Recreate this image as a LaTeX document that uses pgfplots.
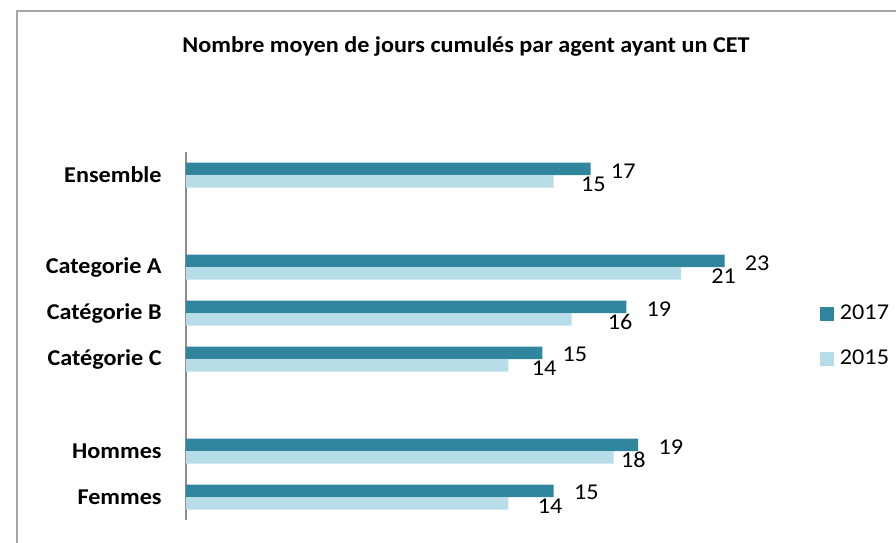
\documentclass[border=0pt]{standalone}
\usepackage{pgfplots}
\pgfplotsset{compat=1.18}
\usepackage{pgfplotstable}
\usepackage{fontspec}
\setmainfont{Carlito}[FakeStretch=1.07]
\definecolor{c17}{HTML}{31859C}
\definecolor{c15}{HTML}{B7DEE8}
\definecolor{framegray}{HTML}{A6A6A6}
\definecolor{axgray}{HTML}{8C8C8C}
\newcommand\f{\fontsize{11.3pt}{13pt}\selectfont}
\pgfplotstableread{
y v17 l17 v15 l15 d15
8 17.0 17 15.45 15 13.5
6 22.63 23 20.8 21 15
5 18.5 19 16.2 16 18
4 14.97 15 13.55 14 11.5
2 19.0 19 17.97 18 3.5
1 15.45 15 13.55 14 14.5
}\data
\begin{document}
\begin{tikzpicture}
\useasboundingbox (0,0) rectangle (448pt,-271pt);
\draw[framegray, line width=1pt] (8.5pt,-5.5pt) rectangle (470pt,-290pt);
\node[font=\f\bfseries, inner sep=0pt] at (233pt,-23pt) {Nombre moyen de jours cumulés par agent ayant un CET};
\begin{axis}[
  at={(93pt,-260pt)}, anchor=south west,
  scale only axis, width=297.5pt, height=184pt,
  xmin=0, xmax=25, ymin=0.5, ymax=8.5,
  axis x line=none, axis y line*=left,
  y axis line style={color=axgray, line width=1pt, -},
  ytick={1,2,4,5,6,8},
  yticklabels={Femmes,Hommes\hspace{2.5pt},Catégorie C,Catégorie B,Categorie A,Ensemble},
  major tick length=0pt,
  yticklabel style={font=\f\bfseries, inner sep=0pt, xshift=-12pt},
  clip=false,
  xbar, bar width=6.25pt,
  point meta=explicit symbolic,
  nodes near coords,
  legend style={at={(1.0655,0.4986)}, anchor=west, draw=none, fill=none,
    inner sep=0pt, outer sep=0pt, row sep=12.5pt, column sep=3pt,
    font=\f, nodes={inner sep=0pt, text height=7.5pt, text depth=2.5pt}},
  legend cell align=left,
  legend image code/.code={\draw[#1,draw=none] (0pt,-3.5pt) rectangle (7pt,3.5pt);},
]
\addplot[fill=c17, draw=none, bar shift=3.125pt,
  every node near coord/.append style={font=\f, anchor=west, inner sep=0pt, xshift=10pt, yshift=-1pt, text=black}]
  table[x=v17, y=y, meta=l17]{\data};
\addlegendentry{2017}
\addplot[fill=c15, draw=none, bar shift=-3.125pt,
  visualization depends on={\thisrow{d15} \as \dx},
  every node near coord/.append style={font=\f, anchor=west, inner sep=0pt, xshift=\dx pt, yshift=-1.5pt, text=black}]
  table[x=v15, y=y, meta=l15]{\data};
\addlegendentry{2015}
\end{axis}
\end{tikzpicture}
\end{document}
